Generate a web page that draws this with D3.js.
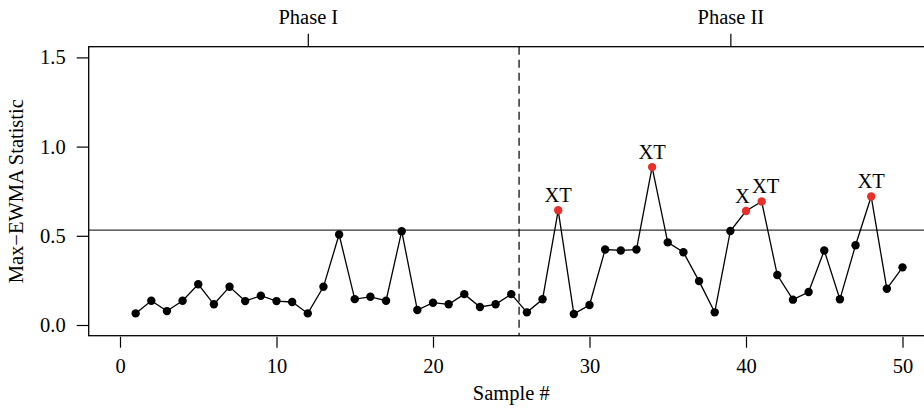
<!DOCTYPE html>
<html>
<head>
<meta charset="utf-8">
<script src="https://cdn.jsdelivr.net/npm/d3@7"></script>
<style>
    body { margin: 0; background: #fff; }
    svg { display: block; font-family: "Liberation Serif", "DejaVu Serif", serif; }
</style>
</head>
<body>
<svg></svg>
<script>
// Set variables

let samples = d3.range(1, 51)
let values = [
    0.065, 0.136, 0.078, 0.136, 0.228, 0.116, 0.214, 0.134, 0.164, 0.134,
    0.129, 0.065, 0.214, 0.507, 0.145, 0.158, 0.136, 0.526, 0.084, 0.125,
    0.116, 0.173, 0.101, 0.116, 0.173, 0.071, 0.144, 0.643, 0.062, 0.112,
    0.423, 0.418, 0.423, 0.885, 0.463, 0.408, 0.246, 0.071, 0.527, 0.639,
    0.692, 0.280, 0.142, 0.185, 0.418, 0.144, 0.447, 0.720, 0.203, 0.323
]
let signalSamples = [28, 34, 40, 41, 48]
let signalLabels = ['XT', 'XT', 'X', 'XT', 'XT']
let controlLimit = 0.532
let phaseSplit = 25.5
let phaseTicks = [12, 39]
let phaseLabels = ['Phase I', 'Phase II']
let xTicks = [0, 10, 20, 30, 40, 50]
let yTicks = [0, 0.5, 1.0, 1.5]

let width = 924
let height = 408
let plotLeft = 88.7
let plotRight = 933.8
let plotTop = 46.7
let plotBottom = 335.7
let fontSize = 20.5

// nudge the two crowded labels apart (samples 40 and 41)
let labelNudge = { 40: -3.5, 41: 4 }

let svg = d3.select('svg')
    .attr('width', width)
    .attr('height', height)

// Scales

let xScale = d3.scaleLinear()
    .domain([-2, 52])
    .range([plotLeft, plotRight])

let yScale = d3.scaleLinear()
    .domain([-0.06, 1.56])
    .range([plotBottom, plotTop])

let points = samples.map((s, i) => ({ sample: s, value: values[i] }))

// Reference lines

svg.append('line')
    .attr('x1', plotLeft).attr('x2', plotRight)
    .attr('y1', yScale(controlLimit)).attr('y2', yScale(controlLimit))
    .attr('stroke', '#333').attr('stroke-width', 1.3)

svg.append('line')
    .attr('x1', xScale(phaseSplit)).attr('x2', xScale(phaseSplit))
    .attr('y1', plotTop).attr('y2', plotBottom)
    .attr('stroke', '#111').attr('stroke-width', 1.3)
    .attr('stroke-dasharray', '8,5')

// Series line and points

let line = d3.line()
    .x(d => xScale(d.sample))
    .y(d => yScale(d.value))

svg.append('path')
    .datum(points)
    .attr('d', line)
    .attr('fill', 'none')
    .attr('stroke', '#000')
    .attr('stroke-width', 1.3)

svg.selectAll('circle')
    .data(points)
    .enter()
    .append('circle')
    .attr('cx', d => xScale(d.sample))
    .attr('cy', d => yScale(d.value))
    .attr('r', 4.2)
    .attr('fill', d => signalSamples.includes(d.sample) ? '#e8302a' : '#000')

svg.selectAll('.signal')
    .data(signalSamples)
    .enter()
    .append('text')
    .attr('class', 'signal')
    .attr('x', d => xScale(d) + (labelNudge[d] || 0))
    .attr('y', d => yScale(values[d - 1]) - 8.5)
    .attr('text-anchor', 'middle')
    .attr('font-size', fontSize)
    .text((d, i) => signalLabels[i])

// Box

svg.append('rect')
    .attr('x', plotLeft).attr('y', plotTop)
    .attr('width', plotRight - plotLeft).attr('height', plotBottom - plotTop)
    .attr('fill', 'none')
    .attr('stroke', '#000')
    .attr('stroke-width', 1.3)

// Axes

let styleAxis = (g) => {
    g.select('.domain').remove()
    g.selectAll('line').attr('stroke', '#000').attr('stroke-width', 1.2)
    g.selectAll('text').attr('font-size', fontSize).attr('fill', '#000')
        .attr('font-family', '"Liberation Serif", "DejaVu Serif", serif')
}

svg.append('g')
    .attr('transform', 'translate(0,' + (plotBottom + 1) + ')')
    .call(d3.axisBottom(xScale).tickValues(xTicks).tickFormat(d3.format('d'))
        .tickSize(11).tickPadding(10.5))
    .call(styleAxis)

svg.append('g')
    .attr('transform', 'translate(' + plotLeft + ',0)')
    .call(d3.axisLeft(yScale).tickValues(yTicks).tickFormat(d3.format('.1f'))
        .tickSize(12).tickPadding(11))
    .call(styleAxis)

svg.append('g')
    .attr('transform', 'translate(0,' + plotTop + ')')
    .call(d3.axisTop(xScale).tickValues(phaseTicks).tickFormat((d, i) => phaseLabels[i])
        .tickSize(13).tickPadding(9.5))
    .call(styleAxis)

// Axis titles

svg.append('text')
    .attr('x', (xScale(0) + xScale(50)) / 2)
    .attr('y', 400)
    .attr('text-anchor', 'middle')
    .attr('font-size', fontSize)
    .text('Sample #')

svg.append('text')
    .attr('transform', 'translate(23,' + ((plotTop + plotBottom) / 2) + ') rotate(-90)')
    .attr('text-anchor', 'middle')
    .attr('font-size', fontSize)
    .text('Max\u2212EWMA Statistic')
</script>
</body>
</html>
